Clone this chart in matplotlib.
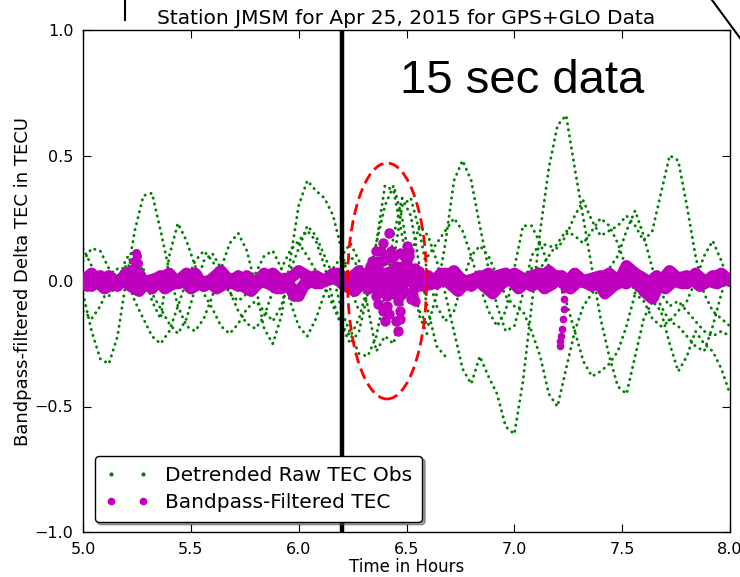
import numpy as np
import matplotlib
matplotlib.use("Agg")
import matplotlib.pyplot as plt
from matplotlib.patches import Ellipse
from matplotlib.lines import Line2D

# ---------------- data ----------------
STEP = 0.04  # hours between listed samples

green_tracks = {
    "A": (5.00, [-0.05, -0.20, -0.31, -0.33, -0.22, 0.00, 0.20, 0.34, 0.35, 0.20, 0.04, -0.10,
                 -0.18, -0.20, -0.15, -0.06, 0.05, 0.15, 0.19, 0.12, -0.02, -0.19, -0.25, -0.14,
                 0.08, 0.30, 0.40, 0.36, 0.33, 0.26, 0.12, -0.03, -0.12]),
    "B": (5.00, [0.08, 0.13, 0.12, 0.05, 0.02, 0.06, 0.09, 0.04, -0.05, -0.11, -0.17, -0.21,
                 -0.15, -0.03, 0.08, 0.11, 0.05, -0.04, -0.12, -0.17, -0.19, -0.14, -0.04, 0.05,
                 0.12, 0.16, 0.20, 0.16, 0.06, -0.08, -0.18, -0.22, -0.15, -0.02, 0.15, 0.30,
                 0.38, 0.25, 0.05, -0.14, -0.22]),
    "C": (5.00, [0.13, 0.06, -0.02, -0.06, -0.01, 0.09, 0.12, 0.05, -0.08, -0.15, 0.10, 0.23,
                 0.16, 0.06, -0.05, -0.11, -0.18, -0.21, -0.17, -0.11, -0.08, -0.12, -0.16, -0.10,
                 0.04, 0.13, 0.22, 0.18, 0.10, 0.02, -0.12, -0.21, -0.29, -0.30, -0.22, -0.05,
                 0.18, 0.33, 0.26, 0.06, -0.12, -0.26, -0.30]),
    "K": (5.00, [-0.12, -0.15, -0.10, -0.02, 0.05, 0.02, -0.08, -0.15, -0.22, -0.25, -0.20, -0.10,
                 0.00, 0.08, 0.12, 0.08, 0.02, -0.05, -0.08, -0.05, 0.03, 0.10, 0.12, 0.05,
                 -0.08, -0.18, -0.22, -0.15, -0.05, 0.05, 0.10, 0.15, 0.08, 0.00]),
    "E": (6.00, [0.15, 0.10, 0.04, -0.02, -0.10, -0.18, -0.25, -0.20, -0.05, 0.15, 0.38, 0.36,
                 0.18, 0.00, -0.12, -0.18, -0.05, 0.15, 0.40, 0.48, 0.40, 0.22, 0.05, -0.10,
                 -0.20, -0.18, -0.05, 0.10, 0.15, 0.14, 0.13, 0.18, 0.26, 0.32, 0.24, 0.18,
                 0.20, 0.22, 0.26, 0.22, 0.16, 0.20, 0.35, 0.50, 0.48, 0.30, 0.10, -0.05,
                 -0.12, -0.15, -0.18]),
    "F": (6.20, [0.05, 0.10, 0.05, -0.10, -0.28, -0.22, -0.25, -0.10, 0.10, 0.22, 0.18, 0.08,
                 -0.05, -0.20, -0.35, -0.41, -0.30, -0.38, -0.45, -0.58, -0.61, -0.40, -0.10, 0.20,
                 0.45, 0.62, 0.66, 0.45, 0.25, 0.05, -0.15, -0.30, -0.42, -0.45, -0.30, -0.15,
                 -0.08, -0.12, -0.25, -0.36, -0.30, -0.20, -0.25, -0.28, -0.35, -0.45]),
    "G": (6.40, [0.02, 0.08, 0.30, 0.33, 0.20, 0.02, -0.10, -0.16, -0.12, 0.00, 0.10, 0.14,
                 0.10, 0.02, -0.06, -0.10, -0.12, -0.20, -0.30, -0.45, -0.50, -0.35, -0.20, -0.10,
                 -0.05, 0.00, 0.05, 0.10, 0.20, 0.28, 0.18, 0.05, -0.05, -0.10, -0.08, -0.12,
                 -0.16, -0.20, -0.22, -0.20, -0.22]),
    "H": (6.60, [0.10, 0.15, 0.20, 0.25, 0.20, 0.10, -0.02, -0.12, -0.18, -0.12, 0.05, 0.22,
                 0.22, 0.15, 0.06, 0.00, -0.08, -0.20, -0.32, -0.38, -0.36, -0.33, -0.28, -0.18,
                 -0.05, 0.02, -0.02, -0.10, -0.16, -0.18, -0.22, -0.26, -0.28, -0.18, -0.05, 0.05]),
    "I": (7.00, [-0.02, 0.02, 0.05, 0.05, 0.10, 0.15, 0.20, 0.18, 0.15, 0.20, 0.25, 0.22,
                 0.15, 0.05, -0.05, -0.08, -0.15, -0.18, -0.16, -0.12, -0.08, 0.00, 0.10, 0.16,
                 0.08, -0.02]),
}

magenta_tracks = {
    "M1": (5.00, [0.00, 0.03, -0.01, 0.02, -0.02, 0.03, 0.04, 0.00, -0.03, 0.01, 0.03, -0.01,
                  0.00, 0.03, -0.02, 0.01, 0.04, 0.00, -0.02, 0.02, -0.01, 0.03, 0.00, -0.03,
                  0.01, 0.04, 0.02, -0.01, 0.00, 0.03, -0.01, 0.01, 0.04, 0.00, -0.02, 0.03,
                  0.01, -0.01, 0.03, 0.00, 0.02, -0.01, 0.01, 0.04, 0.00, -0.02, 0.01, 0.03,
                  -0.01, 0.00, 0.03, 0.01, -0.02, 0.00, 0.04, 0.01, -0.01, 0.03, 0.00, -0.02,
                  0.01, 0.03, 0.00, -0.01, 0.03, 0.01, -0.02, 0.00, 0.04, 0.01, -0.01, 0.03,
                  0.00, 0.01, 0.03, 0.00]),
    "M2": (5.02, [-0.02, 0.00, -0.03, -0.01, 0.01, -0.02, -0.04, 0.00, 0.01, -0.03, -0.01, 0.01,
                  -0.03, -0.01, 0.00, -0.03, -0.01, 0.01, -0.02, -0.04, 0.00, -0.01, -0.03, 0.01,
                  -0.06, -0.02, 0.00, -0.01, 0.01, 0.03, -0.02, -0.04, 0.00, -0.01, 0.02, -0.01,
                  -0.03, 0.00, 0.01, -0.02, -0.01, 0.03, -0.01, -0.04, 0.00, 0.01, -0.02, -0.05,
                  -0.01, 0.01, -0.03, 0.00, 0.01, -0.03, -0.01, 0.02, -0.03, 0.00, -0.01, 0.01,
                  -0.05, -0.02, 0.00, 0.01, -0.02, -0.01, 0.02, -0.03, 0.00, -0.01, 0.01, -0.02,
                  0.00, -0.01, 0.01]),
    "M3": (5.00, [0.01, -0.02, 0.02, 0.00, -0.01, 0.03, 0.01, -0.02, 0.00, 0.02, -0.01, 0.00,
                  0.03, 0.01, -0.02, 0.00, 0.01, -0.01, 0.02, 0.00, -0.02, 0.01, 0.03, 0.00,
                  -0.02, -0.06, 0.01, 0.02, 0.00, 0.01, 0.02, -0.02, 0.01, 0.00, 0.02, -0.01,
                  0.01, 0.02, 0.00, -0.01, 0.01, 0.00, 0.03, 0.01, -0.02, 0.00, 0.02, 0.01,
                  0.02, 0.03, 0.00, -0.01, 0.02, 0.03, 0.00, 0.02, -0.02, 0.01, 0.00, 0.01,
                  0.02, 0.00, -0.01, 0.06, 0.03, -0.04, -0.07, 0.00, 0.02, 0.01, 0.02, 0.00,
                  -0.01, 0.02, 0.01, 0.00]),
}

# bandpass-filtered excursions (individual samples)
event_t = [6.30, 6.31, 6.32, 6.33, 6.34, 6.35, 6.36, 6.37, 6.38, 6.39, 6.40, 6.41, 6.42, 6.43,
           6.44, 6.45, 6.46, 6.47, 6.48, 6.49, 6.50, 6.51, 6.52, 6.53, 6.54, 6.55, 6.56, 6.57]
event_a = [0.00, 0.02, 0.04, 0.02, -0.02, 0.05, 0.12, 0.08, -0.02, -0.12, -0.16, 0.02, 0.19, 0.12,
           -0.05, -0.16, -0.20, -0.12, 0.03, 0.10, 0.14, 0.10, 0.02, -0.06, -0.08, 0.02, 0.04, 0.00]
event_b = [0.01, -0.02, 0.03, 0.06, 0.08, 0.04, -0.03, 0.06, 0.12, 0.08, -0.05, -0.10, 0.04, 0.09,
           0.05, -0.03, 0.04, 0.11, 0.06, -0.04, 0.03, 0.12, 0.05, -0.03, 0.02, -0.01, 0.01, 0.02]
event_c = [-0.02, 0.01, -0.03, 0.03, 0.06, 0.01, -0.06, -0.09, 0.03, 0.15, 0.10, -0.06, -0.13,
           -0.02, 0.10, 0.06, -0.08, -0.15, -0.05, 0.06, 0.08, 0.00, -0.07, -0.04, 0.05, 0.03,
           -0.02, 0.01]
spike1_t = [5.225, 5.232, 5.238, 5.244, 5.250, 5.256, 5.262]
spike1_y = [0.02, 0.05, 0.08, 0.11, 0.10, 0.07, 0.03]
spike2_t = [7.232, 7.230, 7.228, 7.225, 7.220, 7.216, 7.212, 7.210]
spike2_y = [-0.03, -0.07, -0.11, -0.15, -0.19, -0.22, -0.24, -0.26]

event_time = 6.2
ellipse_center = (6.41, 0.0)
ellipse_size = (0.366, 0.94)

title = "Station JMSM for Apr 25, 2015 for GPS+GLO Data"
xlabel = "Time in Hours"
ylabel = "Bandpass-filtered Delta TEC in TECU"
legend_labels = ["Detrended Raw TEC Obs", "Bandpass-Filtered TEC"]
xticks = [5.0, 5.5, 6.0, 6.5, 7.0, 7.5, 8.0]
yticks = [-1.0, -0.5, 0.0, 0.5, 1.0]

GREEN = "#008000"
MAG = "#bf00bf"

# ---------------- figure ----------------
fig = plt.figure(figsize=(7.40, 5.77), dpi=100)
ax = fig.add_axes([83 / 740, 45 / 577, (730 - 83) / 740, (532 - 30) / 577])

for name, (t0, vals) in green_tracks.items():
    t = t0 + STEP * np.arange(len(vals))
    ax.plot(t, vals, color=GREEN, lw=2.1, linestyle=(0, (0.1, 2.0)),
            dash_capstyle="round", zorder=2)

for name, (t0, vals) in magenta_tracks.items():
    t = t0 + STEP * np.arange(len(vals))
    ax.plot(t, vals, color=MAG, lw=8.5, solid_capstyle="round",
            solid_joinstyle="round", zorder=3)

for ev in (event_a, event_b, event_c):
    ax.plot(event_t, ev, color=MAG, lw=0, marker="o", ms=6.5, mec=MAG, zorder=3)
ax.plot(spike1_t, spike1_y, color=MAG, lw=0, marker="o", ms=5.5, mec=MAG, zorder=3)
ax.plot(spike2_t, spike2_y, color=MAG, lw=0, marker="o", ms=4.5, mec=MAG, zorder=3)

ax.axvline(event_time, color="black", lw=3.2, zorder=4)

ell = Ellipse(ellipse_center, ellipse_size[0], ellipse_size[1], fill=False,
              edgecolor="red", lw=2, linestyle=(0, (4, 2)), zorder=5)
ax.add_patch(ell)

ax.set_xlim(5.0, 8.0)
ax.set_ylim(-1.0, 1.0)
ax.set_xticks(xticks)
ax.set_yticks(yticks)
ax.set_xticklabels([f"{v:.1f}" for v in xticks])
ax.set_yticklabels([f"{v:.1f}".replace("-", "\u2212") for v in yticks])
ax.tick_params(direction="in", top=True, right=True, length=6, labelsize=11.5, pad=7)
for sp in ax.spines.values():
    sp.set_linewidth(1.0)

ax.set_title(title, fontsize=14.5, pad=4)
ax.set_xlabel(xlabel, fontsize=12, labelpad=1)
ax.set_ylabel(ylabel, fontsize=13, labelpad=2)

ax.text(0.49, 0.875, "15 sec data", transform=ax.transAxes, fontsize=34,
        family="Liberation Sans", ha="left", va="baseline")

handles = [Line2D([], [], color=GREEN, marker=".", ms=4, lw=0),
           Line2D([], [], color=MAG, marker="o", ms=4.5, lw=0)]
leg = ax.legend(handles, legend_labels, loc="lower left", bbox_to_anchor=(0.018, 0.02),
                borderaxespad=0, numpoints=2, fontsize=14.5, fancybox=True, shadow=True,
                framealpha=1, edgecolor="black", handlelength=2.2, handletextpad=0.8,
                borderpad=0.5, labelspacing=0.4)
leg.get_frame().set_linewidth(1.0)

# slide decorations at the top
fig.add_artist(Line2D([125 / 740, 125 / 740], [1.0, 1 - 20 / 577], color="black", lw=1.5))
fig.add_artist(Line2D([712 / 740, 740 / 740], [1.0, 1 - 38 / 577], color="black", lw=1.5))

fig.savefig("out.png", dpi=100)
